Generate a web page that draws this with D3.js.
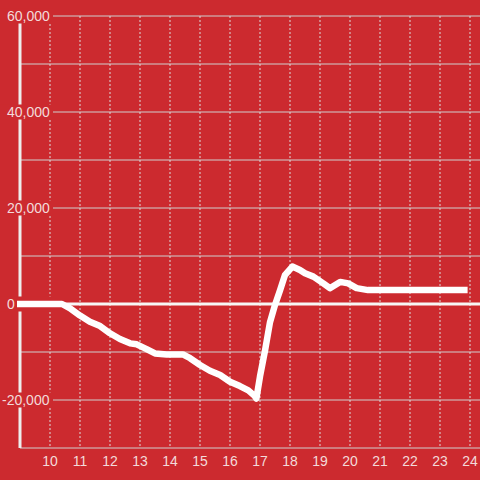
<!DOCTYPE html>
<html>
<head>
<meta charset="utf-8">
<script src="https://cdn.jsdelivr.net/npm/d3@7"></script>
<style>
  body { margin: 0; background: #cc2a2f; }
  text { font-family: "Liberation Sans", Arial, sans-serif; }
</style>
</head>
<body>
<div id="chart"></div>
<script>
// Data (hour of day, value)
var hours = [8.9, 10.4, 10.67, 11.0, 11.33, 11.67, 12.0, 12.33, 12.67, 12.89, 13.22, 13.5, 13.89,
             14.43, 14.67, 15.0, 15.33, 15.67, 16.0, 16.33, 16.61, 16.83, 16.88, 17.0, 17.17, 17.33,
             17.5, 17.67, 17.83, 18.08, 18.33, 18.5, 18.78, 19.11, 19.33, 19.67, 19.94, 20.22, 20.6, 23.92];
var values = [0, 0, -900, -2400, -3700, -4600, -6100, -7300, -8200, -8400, -9400, -10300, -10500,
              -10500, -11300, -12700, -13900, -14800, -16200, -17100, -18000, -19200, -19700, -15100, -9600, -3900,
              -200, 2900, 6000, 7800, 7100, 6400, 5700, 4300, 3300, 4600, 4300, 3300, 2900, 2900];

var yGrid = [-30000, -20000, -10000, 10000, 20000, 30000, 40000, 50000, 60000];
var yLabels = [-20000, 0, 20000, 40000, 60000];
var xTicks = [10, 11, 12, 13, 14, 15, 16, 17, 18, 19, 20, 21, 22, 23, 24];

var width = 480, height = 480;
var bg = "#cc2a2f";

var svg = d3.select("#chart")
  .append("svg")
    .attr("width", width)
    .attr("height", height);

svg.append("rect")
    .attr("width", width)
    .attr("height", height)
    .attr("fill", bg);

var x = d3.scaleLinear().domain([9, 24]).range([20, 470]);
var y = d3.scaleLinear().domain([-30000, 60000]).range([448, 16]);

var data = hours.map(function(h, i) { return {h: h, v: values[i]}; });

// Horizontal grid lines
svg.append("g")
  .selectAll("line")
  .data(yGrid)
  .join("line")
    .attr("x1", x(9))
    .attr("x2", width)
    .attr("y1", function(d) { return y(d); })
    .attr("y2", function(d) { return y(d); })
    .attr("stroke", "#cfcfcf")
    .attr("stroke-width", 1);

// Vertical dashed grid lines
svg.append("g")
  .selectAll("line")
  .data(xTicks)
  .join("line")
    .attr("x1", function(d) { return x(d); })
    .attr("x2", function(d) { return x(d); })
    .attr("y1", y(60000))
    .attr("y2", y(-30000))
    .attr("stroke", "#dcdcdc")
    .attr("stroke-width", 1)
    .attr("stroke-dasharray", "2,2");

// Zero line
svg.append("line")
    .attr("x1", x(9))
    .attr("x2", width)
    .attr("y1", y(0))
    .attr("y2", y(0))
    .attr("stroke", "#f7f7f7")
    .attr("stroke-width", 3);

// Y axis line
svg.append("line")
    .attr("x1", x(9))
    .attr("x2", x(9))
    .attr("y1", y(60000))
    .attr("y2", y(-30000))
    .attr("stroke", "#eeeeee")
    .attr("stroke-width", 3);

// Y labels with background
var yl = svg.append("g")
  .selectAll("g")
  .data(yLabels)
  .join("g")
    .attr("transform", function(d) { return "translate(0," + y(d) + ")"; });

yl.append("rect")
    .attr("x", 0)
    .attr("y", -7.5)
    .attr("width", 53)
    .attr("height", 15)
    .attr("fill", bg);

yl.append("text")
    .attr("x", function(d) { return d < 0 ? 2 : 7; })
    .attr("dy", "0.36em")
    .attr("fill", "#f3dada")
    .style("font-size", "14px")
    .text(function(d) { return d3.format(",")(d).replace("−", "-"); });

// X labels
svg.append("g")
  .selectAll("text")
  .data(xTicks)
  .join("text")
    .attr("x", function(d) { return x(d); })
    .attr("y", 466)
    .attr("text-anchor", "middle")
    .attr("fill", "#f3dada")
    .style("font-size", "14px")
    .text(function(d) { return d; });

// Data line
svg.append("path")
    .datum(data)
    .attr("fill", "none")
    .attr("stroke", "#ffffff")
    .attr("stroke-width", 6.5)
    .attr("stroke-linejoin", "round")
    .attr("d", d3.line()
        .x(function(d) { return x(d.h); })
        .y(function(d) { return y(d.v); })
    );
</script>
</body>
</html>
